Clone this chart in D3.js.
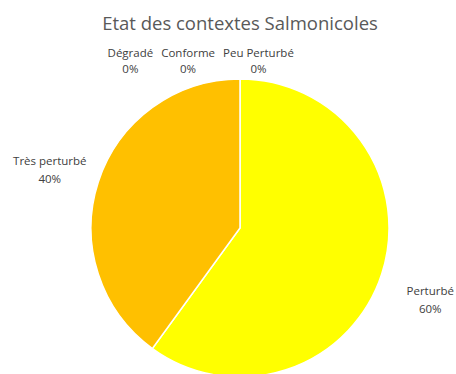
<!DOCTYPE html>
<html>
<head>
<meta charset="utf-8">
<script src="https://cdn.jsdelivr.net/npm/d3@7"></script>
<style>
  body { margin: 0; background: #fff; }
  svg { display: block; }
</style>
</head>
<body>
<div id="chart"></div>
<script>
var title = "Etat des contextes Salmonicoles";
var categories = ["Dégradé", "Conforme", "Peu Perturbé", "Perturbé", "Très perturbé"];
var values = [0, 0, 0, 60, 40];
var colors = ["#A5A5A5", "#70AD47", "#5B9BD5", "#FFFF00", "#FFC000"];

var W = 456, H = 374;
var cx = 240, cy = 228, R = 149;

var svg = d3.select("#chart").append("svg")
    .attr("width", W)
    .attr("height", H);

svg.append("text")
    .attr("x", cx)
    .attr("y", 30)
    .attr("text-anchor", "middle")
    .style("font-family", "'Open Sans', sans-serif")
    .style("font-size", "18.5px")
    .style("fill", "#595959")
    .text(title);

var total = d3.sum(values);
var pie = d3.pie().sort(null).value(function(d){ return d; });
var arcs = pie(values);
var arc = d3.arc().innerRadius(0).outerRadius(R);

var g = svg.append("g").attr("transform", "translate(" + cx + "," + cy + ")");

g.selectAll("path")
    .data(arcs)
    .enter()
    .append("path")
    .attr("d", arc)
    .style("fill", function(d, i){ return colors[i]; })
    .style("stroke", "#fff")
    .style("stroke-width", "1.5px");

var fmt = function(v){ return Math.round(v / total * 100) + "%"; };

var labelR = 200;
var labels = g.selectAll(".lbl")
    .data(arcs)
    .enter()
    .append("text")
    .attr("class", "lbl")
    .attr("text-anchor", "middle")
    .style("font-family", "'Open Sans', sans-serif")
    .style("font-size", "11.5px")
    .style("fill", "#404040");

labels.append("tspan").attr("class", "name").text(function(d, i){ return categories[i]; });
labels.append("tspan").attr("class", "pct").text(function(d){ return fmt(d.value); });

// non-zero slices: outside along the mid angle
labels.filter(function(d){ return d.value > 0; }).each(function(d){
  var t = d3.select(this);
  var a = (d.startAngle + d.endAngle) / 2;
  var x = labelR * Math.sin(a);
  var y = -labelR * Math.cos(a) + 5 + (Math.cos(a) < 0 ? 6 : 0);
  t.selectAll("tspan").attr("x", x);
  t.select(".name").attr("y", y - 6);
  t.select(".pct").attr("y", y + 12);
});

// zero slices: stacked right to left above the pie
var zeroIdx = [];
arcs.forEach(function(d, i){ if (d.value === 0) zeroIdx.push(i); });
var right = null, y0 = -165;
for (var k = zeroIdx.length - 1; k >= 0; k--) {
  var node = labels.filter(function(d, i){ return i === zeroIdx[k]; });
  var w = node.select(".name").node().getComputedTextLength();
  var left = (right === null) ? -17 : right - 8 - w;
  node.selectAll("tspan").attr("x", left + w / 2);
  node.select(".name").attr("y", y0 - 6);
  node.select(".pct").attr("y", y0 + 10);
  right = left;
}
</script>
</body>
</html>
